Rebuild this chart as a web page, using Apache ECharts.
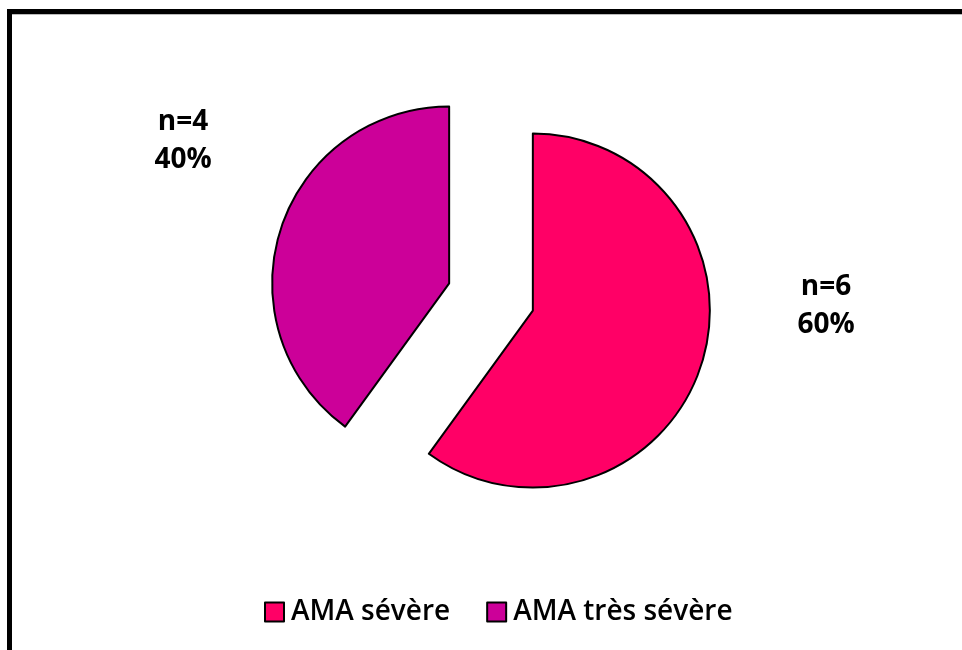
<!DOCTYPE html>
<html>
<head>
<meta charset="utf-8">
<script src="https://cdn.jsdelivr.net/npm/echarts@6/dist/echarts.min.js"></script>
<style>html,body{margin:0;padding:0;background:#fff;}#c{width:962px;height:650px;}</style>
</head>
<body>
<div id="c"></div>
<script>
const categories = ['AMA sévère', 'AMA très sévère'];
const counts = [6, 4];
const colors = ['#FF0066', '#CC0099'];

const labelPos = [[826, 306], [183, 141]];

const total = counts.reduce((a, b) => a + b, 0);
const labelTexts = counts.map(v => 'n=' + v + '\n' + Math.round(v / total * 100) + '%');

const chart = echarts.init(document.getElementById('c'), null, {renderer: 'canvas'});
chart.setOption({
  backgroundColor: '#ffffff',
  animation: false,
  graphic: [
    {type: 'rect', shape: {x: 7, y: 9, width: 960, height: 5}, style: {fill: '#000'}},
    {type: 'rect', shape: {x: 12, y: 14, width: 960, height: 1}, style: {fill: '#bbb'}},
    {type: 'rect', shape: {x: 7, y: 9, width: 5, height: 660}, style: {fill: '#000'}}
  ].concat(labelTexts.map((t, i) => ({
    type: 'text',
    x: labelPos[i][0],
    y: labelPos[i][1],
    style: {
      text: t,
      fontFamily: 'Open Sans',
      fontWeight: 'bold',
      fontSize: 28,
      lineHeight: 38,
      fill: '#000',
      align: 'center',
      verticalAlign: 'middle'
    }
  }))),
  legend: {
    data: categories,
    bottom: 19,
    left: 259,
    itemWidth: 19,
    itemHeight: 19,
    itemGap: 36,
    icon: 'rect',
    textStyle: {fontFamily: 'Open Sans', fontSize: 28, fontWeight: 600, color: '#000', padding: [0, 0, 0, 2]},
    itemStyle: {borderColor: '#000', borderWidth: 2}
  },
  series: [{
    type: 'pie',
    center: [491, 297],
    radius: 177,
    startAngle: 90,
    clockwise: true,
    selectedMode: 'multiple',
    selectedOffset: 44,
    data: categories.map((c, i) => ({
      name: c, value: counts[i], selected: true,
      itemStyle: {color: colors[i]}
    })),
    itemStyle: {borderColor: '#000', borderWidth: 2},
    emphasis: {disabled: true},
    label: {show: false},
    labelLine: {show: false}
  }]
});
</script>
</body>
</html>
